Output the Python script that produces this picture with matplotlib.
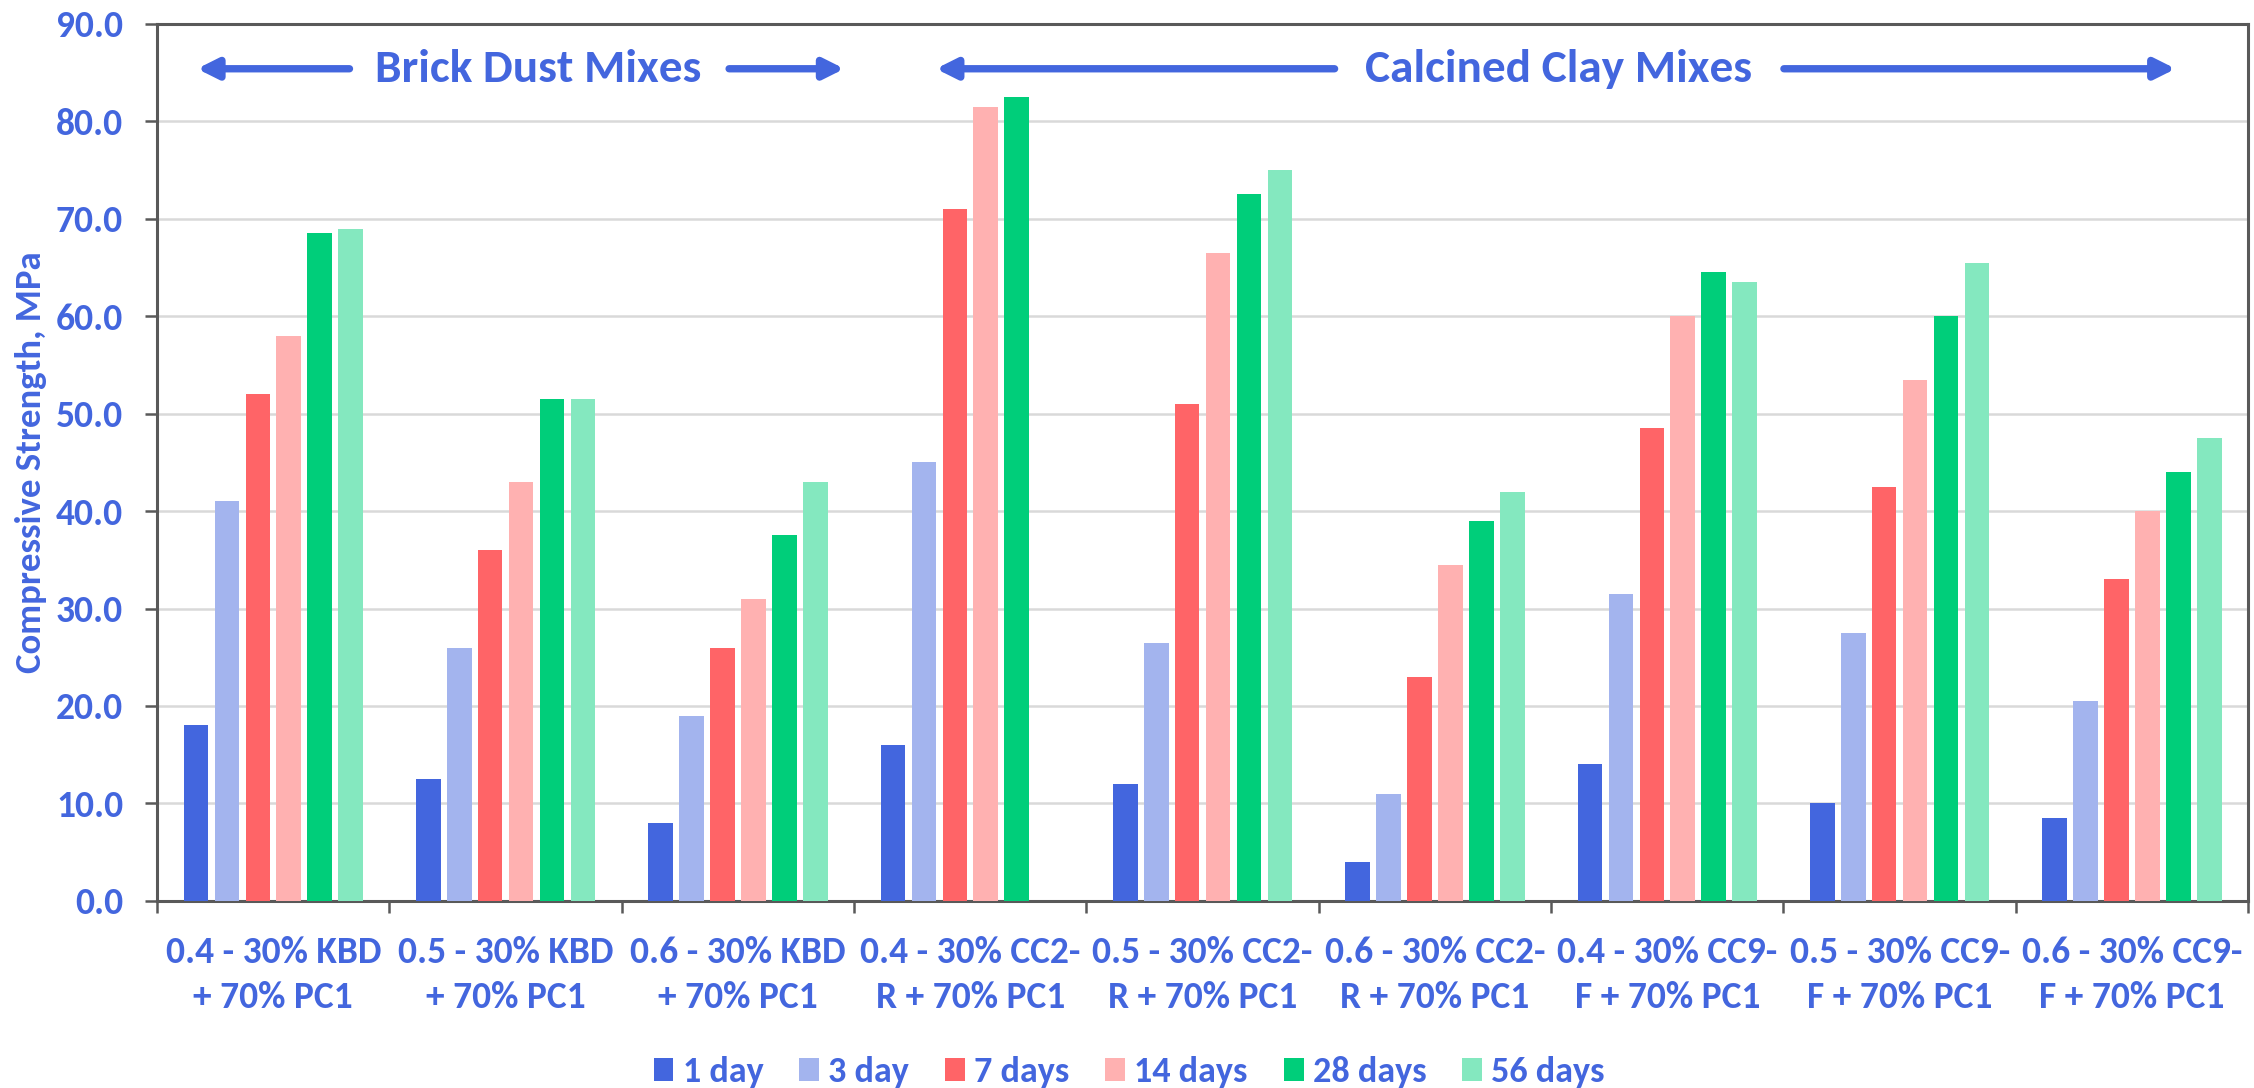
import numpy as np
import matplotlib.pyplot as plt

# compressive strength (MPa) per mix and curing age
mixes = [
    "0.4 - 30% KBD\n+ 70% PC1",
    "0.5 - 30% KBD\n+ 70% PC1",
    "0.6 - 30% KBD\n+ 70% PC1",
    "0.4 - 30% CC2-\nR + 70% PC1",
    "0.5 - 30% CC2-\nR + 70% PC1",
    "0.6 - 30% CC2-\nR + 70% PC1",
    "0.4 - 30% CC9-\nF + 70% PC1",
    "0.5 - 30% CC9-\nF + 70% PC1",
    "0.6 - 30% CC9-\nF + 70% PC1",
]
ages = ["1 day", "3 day", "7 days", "14 days", "28 days", "56 days"]

day1 = [18.0, 12.5, 8.0, 16.0, 12.0, 4.0, 14.0, 10.0, 8.5]
day3 = [41.0, 26.0, 19.0, 45.0, 26.5, 11.0, 31.5, 27.5, 20.5]
day7 = [52.0, 36.0, 26.0, 71.0, 51.0, 23.0, 48.5, 42.5, 33.0]
day14 = [58.0, 43.0, 31.0, 81.5, 66.5, 34.5, 60.0, 53.5, 40.0]
day28 = [68.5, 51.5, 37.5, 82.5, 72.5, 39.0, 64.5, 60.0, 44.0]
day56 = [69.0, 51.5, 43.0, np.nan, 75.0, 42.0, 63.5, 65.5, 47.5]

colors = ["#4366DE", "#A3B4EE", "#FF6467", "#FFB1B1", "#00CE7A", "#84E8BF"]
blue = "#4366DE"

plt.rcParams["font.family"] = ["Carlito", "Liberation Sans", "DejaVu Sans"]
plt.rcParams["font.weight"] = "bold"

fig = plt.figure(figsize=(22.54, 10.88), dpi=100)
ax = fig.add_axes([0.0697, 0.172, 0.9277, 0.806])

x = np.arange(len(mixes))
step = 0.133
width = 0.106
series = [day1, day3, day7, day14, day28, day56]
for i, (vals, lab, col) in enumerate(zip(series, ages, colors)):
    ax.bar(x + (i - 2.5) * step, vals, width, color=col, label=lab, zorder=3)

ax.set_xlim(-0.5, len(mixes) - 0.5)
ax.set_ylim(0, 90)
ax.set_yticks(np.arange(0, 91, 10))
ax.set_yticklabels([f"{v:.1f}" for v in np.arange(0, 91, 10)])
ax.yaxis.grid(True, color="#D9D9D9", linewidth=1.8, zorder=0)

ax.set_xticks(x)
ax.set_xticklabels(mixes, linespacing=1.45)
ax.set_xticks(np.arange(-0.5, len(mixes), 1.0), minor=True)
ax.tick_params(axis="x", which="major", length=0, pad=25, labelsize=27, labelcolor=blue)
ax.tick_params(axis="x", which="minor", length=8.5, width=1.8, color="#595959", direction="out")
ax.tick_params(axis="y", length=8.5, width=1.8, color="#595959", pad=16, labelsize=27, labelcolor=blue)

for s in ax.spines.values():
    s.set_color("#595959")
    s.set_linewidth(2.2)

ax.set_ylabel("Compressive Strength, MPa", fontsize=26.5, fontweight="bold",
              color=blue, labelpad=6)

# group annotations with double-ended arrows
arrow_kw = dict(arrowstyle="-|>,head_length=0.6,head_width=0.3", color=blue, lw=5.3,
                mutation_scale=20)
y_arr = 85.4
ax.annotate("", xy=(-0.34, y_arr), xytext=(0.34, y_arr), arrowprops=arrow_kw)
ax.annotate("", xy=(2.47, y_arr), xytext=(1.95, y_arr), arrowprops=arrow_kw)
ax.text(1.14, y_arr, "Brick Dust Mixes", ha="center", va="center", fontsize=34,
        color=blue, fontweight="bold")
ax.annotate("", xy=(2.84, y_arr), xytext=(4.58, y_arr), arrowprops=arrow_kw)
ax.annotate("", xy=(8.20, y_arr), xytext=(6.49, y_arr), arrowprops=arrow_kw)
ax.text(5.53, y_arr, "Calcined Clay Mixes", ha="center", va="center", fontsize=34,
        color=blue, fontweight="bold")

leg = fig.legend(loc="lower center", bbox_to_anchor=(0.501, -0.03), ncol=6,
                 frameon=False, fontsize=26, handlelength=0.55, handleheight=0.6,
                 handletextpad=0.25, columnspacing=1.0)
for t in leg.get_texts():
    t.set_color(blue)

fig.savefig("out.png", dpi=100)
